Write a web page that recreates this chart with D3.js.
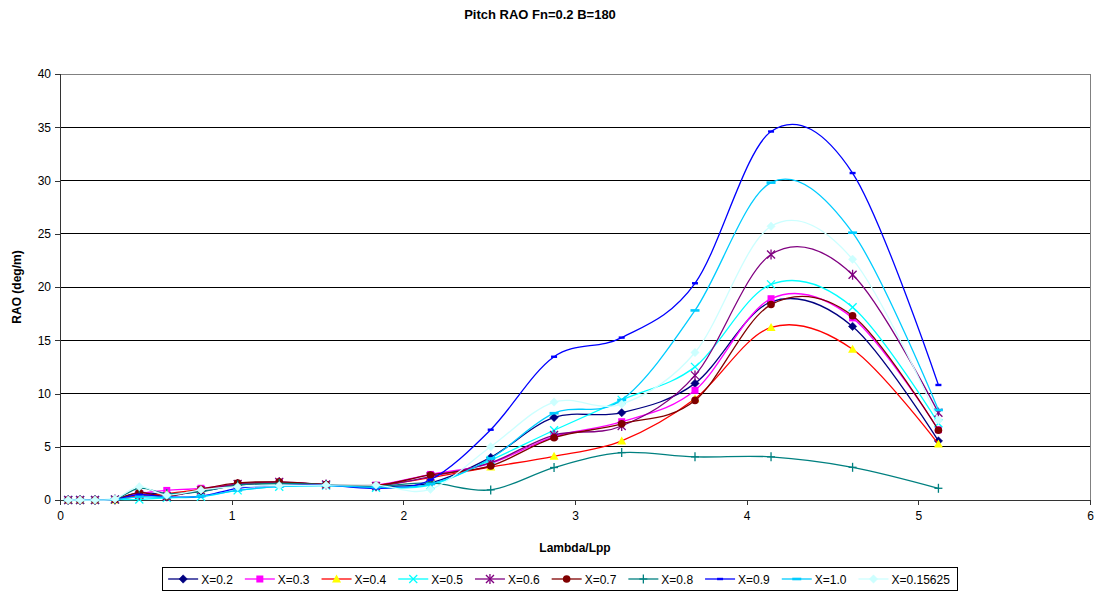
<!DOCTYPE html>
<html><head><meta charset="utf-8">
<script src="https://cdn.jsdelivr.net/npm/d3@7"></script>
<style>body{margin:0;background:#fff;} text{font-family:"Liberation Sans",Arial,sans-serif;}</style>
</head><body>
<svg id="c" width="1099" height="594"></svg>
<script>
const lambdas = [0.048,0.117,0.204,0.32,0.462,0.622,0.821,1.035,1.277,1.55,1.841,2.158,2.509,2.878,3.272,3.699,4.142,4.617,5.117];
const seriesNames = ["X=0.2","X=0.3","X=0.4","X=0.5","X=0.6","X=0.7","X=0.8","X=0.9","X=1.0","X=0.15625"];
const x02 = [0,0,0,0.05,0.7,0.5,0.8,1.4,1.6,1.45,1.3,1.6,4.0,7.75,8.2,10.95,18.6,16.3,5.55];
const x03 = [0,0,0,0.05,0.6,0.9,1.1,1.5,1.65,1.45,1.4,2.4,3.45,5.95,7.35,10.3,18.9,17.1,6.6];
const x04 = [0,0,0,0,0.4,0.6,1.0,1.45,1.6,1.45,1.4,2.1,3.1,4.1,5.55,9.5,16.2,14.15,5.25];
const x05 = [0,0,0,0.05,0.05,0.2,0.3,0.9,1.25,1.35,1.15,1.4,3.75,6.55,9.4,12.5,20.25,18.1,7.2];
const x06 = [0,0,0,0.05,0.5,0.35,0.9,1.5,1.7,1.45,1.3,2.2,3.5,6.1,6.95,11.7,23.05,21.15,8.2];
const x07 = [0,0,0,0.05,0.7,0.35,1.0,1.6,1.7,1.45,1.35,2.35,3.2,5.85,7.15,9.35,18.35,17.3,6.55];
const x08 = [0,0,0,0.05,1.1,0.6,0.8,1.4,1.55,1.45,1.3,1.6,0.95,3.05,4.45,4.05,4.05,3.07,1.1];
const x09 = [0,0,0,0.05,0.5,0.3,0.35,1.1,1.35,1.4,1.1,1.9,6.6,13.45,15.25,20.35,34.6,30.7,10.8];
const x10 = [0,0,0,0.05,0.3,0.25,0.35,0.9,1.25,1.35,1.2,1.5,3.9,8.15,9.4,17.8,29.8,25.1,8.45];
const x0156 = [0,0,0,0.1,1.25,0.45,0.95,1.25,1.35,1.4,1.4,1.0,5.0,9.2,9.0,13.85,25.7,22.6,7.5];
const xTicks = [0,1,2,3,4,5,6];
const yTicks = [0,5,10,15,20,25,30,35,40];

const seriesValues = [x02,x03,x04,x05,x06,x07,x08,x09,x10,x0156];
const styles = [
  {line:"#000080", marker:"diamond", fill:"#000080"},
  {line:"#FF00FF", marker:"square", fill:"#FF00FF"},
  {line:"#FF0000", marker:"triangle", fill:"#FFFF00"},
  {line:"#00FFFF", marker:"x", fill:"#00FFFF"},
  {line:"#800080", marker:"star", fill:"#800080"},
  {line:"#800000", marker:"circle", fill:"#800000"},
  {line:"#008080", marker:"plus", fill:"#008080"},
  {line:"#0000FF", marker:"dash", fill:"#0000FF"},
  {line:"#00CCFF", marker:"longdash", fill:"#00CCFF"},
  {line:"#CCFFFF", marker:"diamond", fill:"#CCFFFF"}
];

const svg = d3.select("#c");
const L = 60, R = 1090, T = 74, B = 500;
const x = d3.scaleLinear().domain([0,6]).range([L,R]);
const y = d3.scaleLinear().domain([0,40]).range([B,T]);

// title
svg.append("text").attr("x",540).attr("y",19).attr("text-anchor","middle")
  .attr("font-size",13).attr("font-weight","bold").text("Pitch RAO Fn=0.2 B=180");

// gridlines
svg.append("g").selectAll("line").data(yTicks.filter(d=>d>0 && d<40)).join("line")
  .attr("x1",L).attr("x2",R).attr("y1",d=>y(d)).attr("y2",d=>y(d))
  .attr("stroke","#000").attr("stroke-width",1).attr("shape-rendering","crispEdges");
// plot border
svg.append("rect").attr("x",L).attr("y",T).attr("width",R-L).attr("height",B-T)
  .attr("fill","none").attr("stroke","#808080").attr("shape-rendering","crispEdges");

// axes
const yAxis = d3.axisLeft(y).tickValues(yTicks).tickSize(5).tickPadding(4);
const gy = svg.append("g").attr("transform",`translate(${L},0)`).call(yAxis);
const xAxis = d3.axisBottom(x).tickValues(xTicks).tickSize(5).tickPadding(6).tickFormat(d3.format("d"));
const gx = svg.append("g").attr("transform",`translate(0,${B})`).call(xAxis);
[gx,gy].forEach(g=>{
  g.selectAll("path").attr("stroke","#333").attr("shape-rendering","crispEdges");
  g.selectAll("line").attr("stroke","#333").attr("shape-rendering","crispEdges");
  g.selectAll("text").attr("font-size",12).attr("fill","#000").attr("font-family","Liberation Sans, Arial, sans-serif");
});

svg.append("text").attr("x",(L+R)/2).attr("y",552).attr("text-anchor","middle")
  .attr("font-size",12).attr("font-weight","bold").text("Lambda/Lpp");
svg.append("text").attr("transform",`translate(21,${(T+B)/2}) rotate(-90)`).attr("text-anchor","middle")
  .attr("font-size",12).attr("font-weight","bold").text("RAO (deg/m)");

function drawMarker(g, type, color, cx, cy){
  if (type==="diamond"){
    const s=4.2;
    g.append("path").attr("d",`M${cx},${cy-s}L${cx+s},${cy}L${cx},${cy+s}L${cx-s},${cy}Z`)
      .attr("fill",color).attr("stroke",color).attr("stroke-width",0.5);
  } else if (type==="square"){
    g.append("rect").attr("x",cx-3.5).attr("y",cy-3.5).attr("width",7).attr("height",7).attr("fill",color);
  } else if (type==="triangle"){
    g.append("path").attr("d",`M${cx},${cy-4.5}L${cx+4.5},${cy+3.5}L${cx-4.5},${cy+3.5}Z`).attr("fill",color);
  } else if (type==="circle"){
    g.append("circle").attr("cx",cx).attr("cy",cy).attr("r",3.8).attr("fill",color);
  } else if (type==="x" || type==="star" || type==="plus"){
    const s=4; const segs=[];
    if (type!=="plus"){ segs.push([-s,-s,s,s]); segs.push([-s,s,s,-s]); }
    if (type==="plus"){ segs.push([-s,0,s,0]); segs.push([0,-s-0.5,0,s+0.5]); }
    if (type==="star"){ segs.push([0,-s-1,0,s+1]); }
    segs.forEach(q=>g.append("line").attr("x1",cx+q[0]).attr("y1",cy+q[1]).attr("x2",cx+q[2]).attr("y2",cy+q[3])
      .attr("stroke",color).attr("stroke-width",1.3));
  } else if (type==="dash"){
    g.append("rect").attr("x",cx-3).attr("y",cy-1.2).attr("width",6).attr("height",2.4).attr("fill",color);
  } else if (type==="longdash"){
    g.append("rect").attr("x",cx-4.5).attr("y",cy-1.3).attr("width",9).attr("height",2.6).attr("fill",color);
  }
}

const line = d3.line().x(d=>x(d[0])).y(d=>y(d[1])).curve(d3.curveCardinal.tension(0));
const plot = svg.append("g");
seriesValues.forEach((vals,i)=>{
  const pts = lambdas.map((l,k)=>[l,vals[k]]);
  const g = plot.append("g");
  g.append("path").attr("d",line(pts)).attr("fill","none").attr("stroke",styles[i].line).attr("stroke-width",1.3);
  pts.forEach(p=>drawMarker(g, styles[i].marker, styles[i].fill, x(p[0]), y(p[1])));
});

// legend
const legBox = svg.append("g");
const leg = svg.append("g");
let cx = 0;
seriesNames.forEach((name,i)=>{
  const gi = leg.append("g");
  gi.append("line").attr("x1",cx).attr("x2",cx+30).attr("y1",0).attr("y2",0).attr("stroke",styles[i].line).attr("stroke-width",1.3);
  drawMarker(gi, styles[i].marker, styles[i].fill, cx+15, 0);
  const t = gi.append("text").attr("x",cx+33).attr("y",4.5).attr("font-size",12).text(name);
  const w = t.node().getComputedTextLength();
  cx += 33 + w + 12;
});
const totalW = cx - 8;
const boxL = 560 - totalW/2 - 5;
leg.attr("transform",`translate(${boxL+6},579)`);
legBox.append("rect").attr("x",boxL).attr("y",567).attr("width",totalW+10).attr("height",23)
  .attr("fill","#fff").attr("stroke","#000").attr("shape-rendering","crispEdges");
</script>
</body></html>
